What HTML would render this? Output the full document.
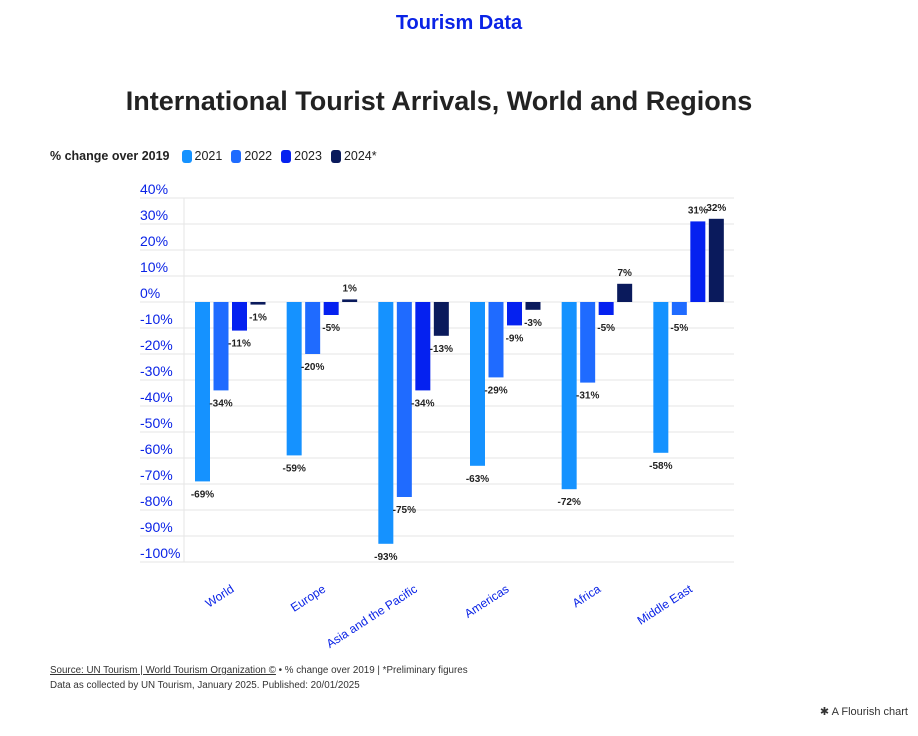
<!DOCTYPE html>
<html><head><meta charset="utf-8"><style>
body{margin:0;width:918px;height:736px;background:#fff;font-family:"Liberation Sans",sans-serif;position:relative;overflow:hidden}
.a{position:absolute}
</style></head><body>
<div class="a" style="left:0;width:918px;top:12px;text-align:center;font-size:20px;font-weight:bold;color:#0a23e6">Tourism Data</div>
<div class="a" style="left:0;width:878px;top:86px;text-align:center;font-size:27px;font-weight:bold;color:#222">International Tourist Arrivals, World and Regions</div>
<div class="a" style="left:50px;top:149px;font-size:12.5px;color:#222;display:flex;align-items:center;gap:5px">
<b style="margin-right:7px">% change over 2019</b>
<span style="display:flex;align-items:center;gap:3px;margin-right:4px"><i style="width:10px;height:13px;border-radius:3px;background:#1592ff;display:inline-block"></i>2021</span>
<span style="display:flex;align-items:center;gap:3px;margin-right:4px"><i style="width:10px;height:13px;border-radius:3px;background:#1f6bff;display:inline-block"></i>2022</span>
<span style="display:flex;align-items:center;gap:3px;margin-right:4px"><i style="width:10px;height:13px;border-radius:3px;background:#0521f0;display:inline-block"></i>2023</span>
<span style="display:flex;align-items:center;gap:3px"><i style="width:10px;height:13px;border-radius:3px;background:#0a1a5c;display:inline-block"></i>2024*</span>
</div>
<svg class="a" style="left:0;top:0" width="918" height="736" id="chart"></svg>
<div class="a" style="left:50px;top:663px;font-size:9.8px;color:#333;line-height:15px"><span style="text-decoration:underline">Source: UN Tourism | World Tourism Organization ©</span> • % change over 2019 | *Preliminary figures<br>Data as collected by UN Tourism, January 2025. Published: 20/01/2025</div>
<div class="a" style="right:10px;top:705px;font-size:11px;color:#333">✱ A Flourish chart</div>
<script>
const categories=["World","Europe","Asia and the Pacific","Americas","Africa","Middle East"];
const years=["2021","2022","2023","2024"];
const v2021=[-69,-59,-93,-63,-72,-58];
const v2022=[-34,-20,-75,-29,-31,-5];
const v2023=[-11,-5,-34,-9,-5,31];
const v2024=[-1,1,-13,-3,7,32];
const ticks=[40,30,20,10,0,-10,-20,-30,-40,-50,-60,-70,-80,-90,-100];
const series=[v2021,v2022,v2023,v2024];
const colors=["#1592ff","#1f6bff","#0521f0","#0a1a5c"];
const svg=document.getElementById('chart');const NS="http://www.w3.org/2000/svg";
const L=184,R=734,T=198,B=562;
const y=v=>T+(40-v)/140*(B-T);
const gw=(R-L)/categories.length;
const bw=15,gap=3.5;
const bx=(g,s)=>L+g*gw+11+s*(bw+gap);
function mk(t,a,txt){const e=document.createElementNS(NS,t);for(const k in a)e.setAttribute(k,a[k]);if(txt!=null)e.textContent=txt;svg.appendChild(e);return e;}
ticks.forEach(t=>{
const l=mk('line',{x1:140,x2:R,y1:y(t),y2:y(t),stroke:'#e6e6e6','stroke-width':1});


const tx=mk('text',{x:140,y:y(t)-4,'font-size':14,fill:'#0a23e6','font-family':'Liberation Sans'},t+'%');


});
const ax=mk('line',{x1:L,x2:L,y1:T,y2:B,stroke:'#e6e6e6'});


const labels=[];
categories.forEach((c,g)=>{
series.forEach((s,i)=>{
const v=s[g],x=bx(g,i),y0=y(0),y1=y(v);
const r=mk('rect',{x:x,y:Math.min(y0,y1),width:bw,height:Math.max(1.5,Math.abs(y1-y0)),fill:colors[i]});


labels.push([x+bw/2,v>=0?y1-8:y1+16,v]);
});
const xl=mk('text',{x:0,y:0,'font-size':12,fill:'#0a23e6','text-anchor':'end','font-family':'Liberation Sans',transform:`translate(${L+g*gw+gw/2+5},${591}) rotate(-33)`},c);


});
labels.forEach(([x,yy,v])=>{
const t=mk('text',{x:x,y:yy,'font-size':10,'font-weight':'bold',fill:'#222','text-anchor':'middle','font-family':'Liberation Sans'},v+'%');


});
</script>
</body></html>
